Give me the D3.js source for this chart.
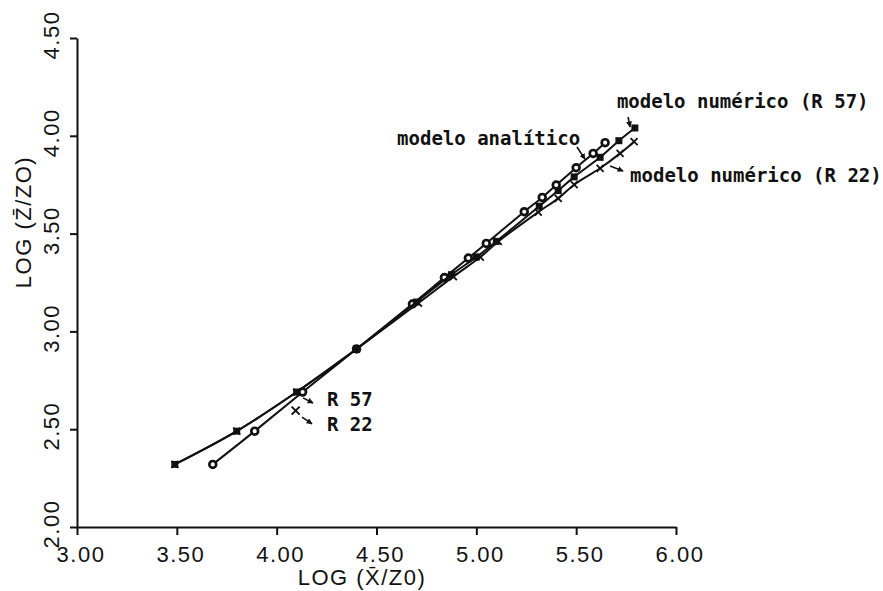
<!DOCTYPE html>
<html>
<head>
<meta charset="utf-8">
<script src="https://cdn.jsdelivr.net/npm/d3@7"></script>
<style>
  html, body { margin: 0; padding: 0; background: #fff; }
  svg { display: block; }
  .tick-label { font-family: "Liberation Sans", "DejaVu Sans", sans-serif; font-size: 22px; letter-spacing: 1.5px; fill: #111; }
  .annot { font-family: "DejaVu Sans Mono", "Liberation Mono", monospace; font-size: 19px; font-weight: bold; fill: #111; }
</style>
</head>
<body>
<svg id="chart" width="883" height="591"></svg>
<script>
// ---------- data ----------
const xTicks = [3.00, 3.50, 4.00, 4.50, 5.00, 5.50, 6.00];
const yTicks = [2.00, 2.50, 3.00, 3.50, 4.00, 4.50];
const xTitle = "LOG (X\u0304/Z0)";
const yTitle = "LOG (Z\u0304/ZO)";

// modelo analítico (circles)
const analyticX = [3.68, 3.89, 4.13, 4.40, 4.68, 4.84, 4.96, 5.05, 5.24, 5.33, 5.40, 5.50, 5.585, 5.645];
const analyticY = [2.32, 2.49, 2.69, 2.91, 3.14, 3.275, 3.375, 3.45, 3.612, 3.685, 3.748, 3.837, 3.91, 3.965];

// modelo numérico R 57 (squares)
const r57X = [3.49, 3.80, 4.10, 4.40, 4.70, 4.875, 5.00, 5.10, 5.315, 5.41, 5.49, 5.62, 5.714, 5.794];
const r57Y = [2.32, 2.49, 2.69, 2.91, 3.15, 3.29, 3.38, 3.46, 3.64, 3.72, 3.79, 3.89, 3.975, 4.04];

// modelo numérico R 22 (crosses)
const r22X = [3.49, 3.80, 4.10, 4.40, 4.71, 4.885, 5.02, 5.11, 5.31, 5.41, 5.49, 5.62, 5.72, 5.79];
const r22Y = [2.32, 2.49, 2.69, 2.91, 3.145, 3.28, 3.38, 3.46, 3.61, 3.68, 3.75, 3.834, 3.91, 3.97];

// annotations (data coordinates)
const labelTexts = ["modelo analítico", "modelo numérico (R 57)", "modelo numérico (R 22)", "R 57", "R 22"];
const labelX = [4.603, 5.704, 5.77, 4.252, 4.252];
const labelY = [3.953, 4.142, 3.764, 2.619, 2.491];
const arrowFromX = [5.504, 5.76, 5.67, 4.132, 4.127];
const arrowFromY = [3.943, 4.096, 3.846, 2.66, 2.562];
const arrowToX = [5.544, 5.77, 5.735, 4.182, 4.177];
const arrowToY = [3.881, 4.045, 3.82, 2.634, 2.527];
const keyR22X = [4.095];
const keyR22Y = [2.595];

// ---------- layout ----------
const svg = d3.select("#chart");
const x = d3.scaleLinear().domain([3, 6]).range([77, 676]);
const y = d3.scaleLinear().domain([2, 4.5]).range([527, 38]);

svg.append("rect").attr("width", 883).attr("height", 591).attr("fill", "#fff");

svg.append("defs").append("marker")
  .attr("id", "ah").attr("viewBox", "0 0 10 10")
  .attr("refX", 9).attr("refY", 5)
  .attr("markerWidth", 6).attr("markerHeight", 6)
  .attr("markerUnits", "userSpaceOnUse")
  .attr("orient", "auto")
  .append("path").attr("d", "M0,0 L10,5 L0,10 Z").attr("fill", "#111");

// axes
const xAxis = d3.axisBottom(x).tickValues(xTicks).tickSize(8).tickSizeOuter(0).tickFormat("");
const yAxis = d3.axisLeft(y).tickValues(yTicks).tickSize(7).tickSizeOuter(0).tickFormat("");
const gx = svg.append("g").attr("transform", "translate(0,527)").call(xAxis);
const gy = svg.append("g").attr("transform", "translate(77,0)").call(yAxis);
[gx, gy].forEach(g => {
  g.select(".domain").attr("stroke", "#111").attr("stroke-width", 2);
  g.selectAll(".tick line").attr("stroke", "#111").attr("stroke-width", 2);
});

// tick labels
svg.append("g").selectAll("text").data(xTicks).join("text")
  .attr("class", "tick-label")
  .attr("x", d => x(d) + 4).attr("y", 562)
  .attr("text-anchor", "middle")
  .text(d => d.toFixed(2));

svg.append("g").selectAll("text").data(yTicks).join("text")
  .attr("class", "tick-label")
  .attr("transform", d => `translate(59,${y(d) - 3}) rotate(-90)`)
  .attr("text-anchor", "middle")
  .text(d => d.toFixed(2));

// axis titles
svg.append("text").attr("class", "tick-label")
  .attr("x", 362).attr("y", 585).attr("text-anchor", "middle")
  .text(xTitle);
svg.append("text").attr("class", "tick-label")
  .attr("transform", "translate(31,222) rotate(-90)").attr("text-anchor", "middle")
  .text(yTitle);

// series
const series = [
  { xs: analyticX, ys: analyticY, marker: "circle" },
  { xs: r57X, ys: r57Y, marker: "square" },
  { xs: r22X, ys: r22Y, marker: "cross" }
];
const line = d3.line().x(d => x(d[0])).y(d => y(d[1])).curve(d3.curveCatmullRom.alpha(0.5));

series.forEach(s => {
  const pts = s.xs.map((v, i) => [v, s.ys[i]]);
  svg.append("path").datum(pts).attr("d", line)
    .attr("fill", "none").attr("stroke", "#111").attr("stroke-width", 2);
  const g = svg.append("g");
  if (s.marker === "circle") {
    g.selectAll("circle").data(pts).join("circle")
      .attr("cx", d => x(d[0])).attr("cy", d => y(d[1])).attr("r", 3.4)
      .attr("fill", "#fff").attr("stroke", "#111").attr("stroke-width", 2.7);
  } else if (s.marker === "square") {
    g.selectAll("rect").data(pts).join("rect")
      .attr("x", d => x(d[0]) - 3.5).attr("y", d => y(d[1]) - 3.5)
      .attr("width", 7).attr("height", 7).attr("fill", "#111");
  } else {
    g.selectAll("path").data(pts).join("path")
      .attr("d", d => {
        const cx = x(d[0]), cy = y(d[1]), r = 3.5;
        return `M${cx - r},${cy - r}L${cx + r},${cy + r}M${cx - r},${cy + r}L${cx + r},${cy - r}`;
      })
      .attr("stroke", "#111").attr("stroke-width", 1.8).attr("fill", "none");
  }
});

// R 22 key cross
svg.append("g").selectAll("path").data(keyR22X.map((v, i) => [v, keyR22Y[i]])).join("path")
  .attr("d", d => {
    const cx = x(d[0]), cy = y(d[1]), r = 4;
    return `M${cx - r},${cy - r}L${cx + r},${cy + r}M${cx - r},${cy + r}L${cx + r},${cy - r}`;
  })
  .attr("stroke", "#111").attr("stroke-width", 2).attr("fill", "none");

// arrows
svg.append("g").selectAll("line").data(arrowFromX.map((v, i) => i)).join("line")
  .attr("x1", i => x(arrowFromX[i])).attr("y1", i => y(arrowFromY[i]))
  .attr("x2", i => x(arrowToX[i])).attr("y2", i => y(arrowToY[i]))
  .attr("stroke", "#111").attr("stroke-width", 1.6)
  .attr("marker-end", "url(#ah)");

// labels
svg.append("g").selectAll("text").data(labelTexts).join("text")
  .attr("class", "annot")
  .attr("x", (d, i) => x(labelX[i])).attr("y", (d, i) => y(labelY[i]))
  .text(d => d);
</script>
</body>
</html>
